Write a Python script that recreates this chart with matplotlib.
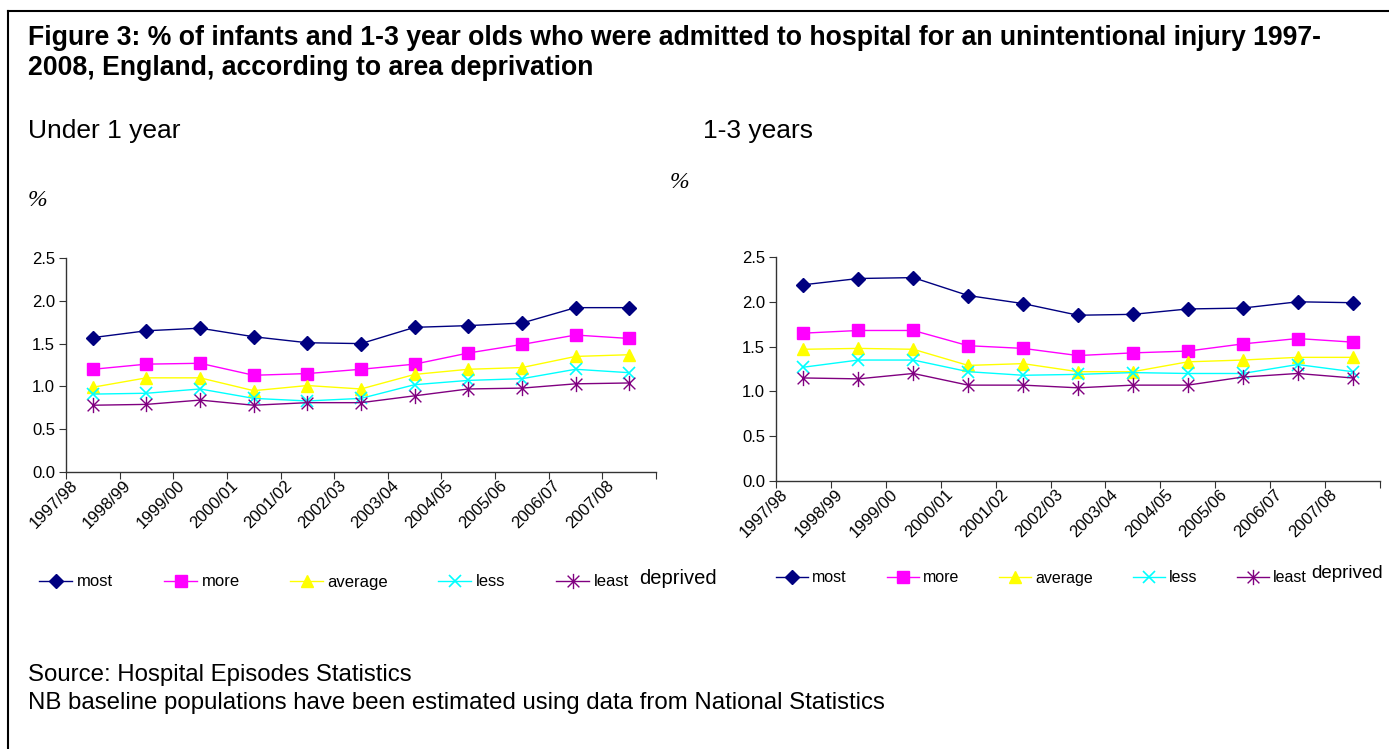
import numpy as np
import matplotlib
matplotlib.use("Agg")
import matplotlib.pyplot as plt
import matplotlib.transforms as mtransforms
from matplotlib.path import Path
from matplotlib.lines import Line2D

plt.rcParams['font.family'] = ['Liberation Sans', 'DejaVu Sans']

years = ['1997/98', '1998/99', '1999/00', '2000/01', '2001/02', '2002/03',
         '2003/04', '2004/05', '2005/06', '2006/07', '2007/08']
groups = ['most', 'more', 'average', 'less', 'least']

# under 1 year
u1_most = [1.57, 1.65, 1.68, 1.58, 1.51, 1.50, 1.69, 1.71, 1.74, 1.92, 1.92]
u1_more = [1.20, 1.26, 1.27, 1.13, 1.15, 1.20, 1.26, 1.39, 1.49, 1.60, 1.56]
u1_average = [0.99, 1.10, 1.10, 0.95, 1.01, 0.97, 1.14, 1.20, 1.22, 1.35, 1.37]
u1_less = [0.91, 0.92, 0.97, 0.86, 0.83, 0.86, 1.02, 1.07, 1.09, 1.20, 1.16]
u1_least = [0.78, 0.79, 0.84, 0.78, 0.81, 0.81, 0.89, 0.97, 0.98, 1.03, 1.04]

# 1-3 years
y13_most = [2.19, 2.26, 2.27, 2.07, 1.98, 1.85, 1.86, 1.92, 1.93, 2.00, 1.99]
y13_more = [1.65, 1.68, 1.68, 1.51, 1.48, 1.40, 1.43, 1.45, 1.53, 1.59, 1.55]
y13_average = [1.47, 1.48, 1.47, 1.29, 1.31, 1.22, 1.22, 1.33, 1.35, 1.38, 1.38]
y13_less = [1.27, 1.35, 1.35, 1.22, 1.18, 1.19, 1.21, 1.20, 1.20, 1.30, 1.22]
y13_least = [1.15, 1.14, 1.20, 1.07, 1.07, 1.04, 1.07, 1.07, 1.16, 1.20, 1.15]

# excel style asterisk marker: x plus a vertical bar
star = Path([(-1, -1), (1, 1), (-1, 1), (1, -1), (0, -1.3), (0, 1.3)],
            [Path.MOVETO, Path.LINETO, Path.MOVETO, Path.LINETO, Path.MOVETO, Path.LINETO])

styles = [
    dict(color='#000080', marker='D', ms=7.5, mfc='#000080', mec='#000080'),
    dict(color='#FF00FF', marker='s', ms=9, mfc='#FF00FF', mec='#FF00FF'),
    dict(color='#FFFF00', marker='^', ms=9, mfc='#FFFF00', mec='#FFFF00'),
    dict(color='#00FFFF', marker='x', ms=9, mfc='none', mec='#00FFFF', mew=1.2),
    dict(color='#800080', marker=star, ms=11, mfc='none', mec='#800080', mew=1.0),
]

W, H = 1389, 749
fig = plt.figure(figsize=(W/100, H/100), dpi=100)

def fx(px):
    return px / W

def fy(py):
    return 1 - py / H

# frame
fig.add_artist(Line2D([fx(8), 1.0], [fy(11), fy(11)], color='black', lw=1.5))
fig.add_artist(Line2D([fx(8), fx(8)], [0, fy(11)], color='black', lw=1.5))

fig.text(fx(28), fy(38), 'Figure 3: % of infants and 1-3 year olds who were admitted to hospital '
         'for an unintentional injury 1997-', fontsize=19.2, fontweight='bold', va='center')
fig.text(fx(28), fy(68), '2008, England, according to area deprivation',
         fontsize=19.2, fontweight='bold', va='center')
fig.text(fx(28), fy(131), 'Under 1 year', fontsize=19, va='center')
fig.text(fx(703), fy(131), '1-3 years', fontsize=19, va='center')
fig.text(fx(28), fy(201), '%', fontsize=17, style='italic', family='Liberation Serif', va='center')
fig.text(fx(670), fy(183), '%', fontsize=17, style='italic', family='Liberation Serif', va='center')

fig.text(fx(28), fy(675), 'Source: Hospital Episodes Statistics', fontsize=17.3, va='center')
fig.text(fx(28), fy(703), 'NB baseline populations have been estimated using data from National Statistics',
         fontsize=17.3, va='center')

panels = [
    ([66, 656, 472, 258], [u1_most, u1_more, u1_average, u1_less, u1_least]),
    ([776, 1380, 481, 257], [y13_most, y13_more, y13_average, y13_less, y13_least]),
]

x = np.arange(len(years))
axes = []
for (x0, x1, yb, yt), series in panels:
    ax = fig.add_axes([fx(x0), fy(yb), (x1-x0)/W, (yb-yt)/H])
    for vals, name, st in zip(series, groups, styles):
        ax.plot(x, vals, lw=1.0, label=name, **st)
    ax.set_xlim(-0.5, len(years)-0.5)
    ax.set_ylim(0, 2.5)
    ax.set_yticks(np.arange(0, 2.51, 0.5))
    ax.set_yticklabels(['%.1f' % v for v in np.arange(0, 2.51, 0.5)], fontsize=12)
    ax.set_xticks(np.arange(-0.5, len(years)), minor=False)
    ax.set_xticklabels([])
    ax.set_xticks(x, minor=True)
    ax.set_xticklabels(years, minor=True, rotation=45, ha='right', va='top',
                       rotation_mode='anchor', fontsize=12)
    ax.tick_params(axis='x', which='minor', length=0, pad=4)
    ax.tick_params(axis='x', which='major', direction='out', length=5, color='#333333')
    ax.tick_params(axis='y', direction='out', length=5, color='#333333', pad=3)
    off = mtransforms.ScaledTranslation(-0.23, 0, fig.dpi_scale_trans)
    for lab in ax.get_xticklabels(minor=True):
        lab.set_transform(lab.get_transform() + off)
    for s in ['top', 'right']:
        ax.spines[s].set_visible(False)
    for s in ['left', 'bottom']:
        ax.spines[s].set_color('#333333')
        ax.spines[s].set_linewidth(1.0)
    ax.patch.set_alpha(0)
    axes.append(ax)

# legends, one entry at a time so each sits where it does in the original
leg_x = [[39, 164, 290, 438, 556], [776, 887, 999, 1133, 1237]]
leg_y = [582, 578]
leg_fs = [12, 11.5]
for ax, xs, ly, fs in zip(axes, leg_x, leg_y, leg_fs):
    h, l = ax.get_legend_handles_labels()
    for hh, ll, lx in zip(h, l, xs):
        fig.legend([hh], [ll], loc='center left', bbox_to_anchor=(fx(lx), fy(ly)),
                   frameon=False, fontsize=fs, handlelength=2.0, handletextpad=0.25,
                   borderpad=0, borderaxespad=0)
fig.text(fx(639), fy(579), 'deprived', fontsize=14.5, va='center')
fig.text(fx(1311), fy(574), 'deprived', fontsize=13.5, va='center')

fig.savefig('out.png', dpi=100)
